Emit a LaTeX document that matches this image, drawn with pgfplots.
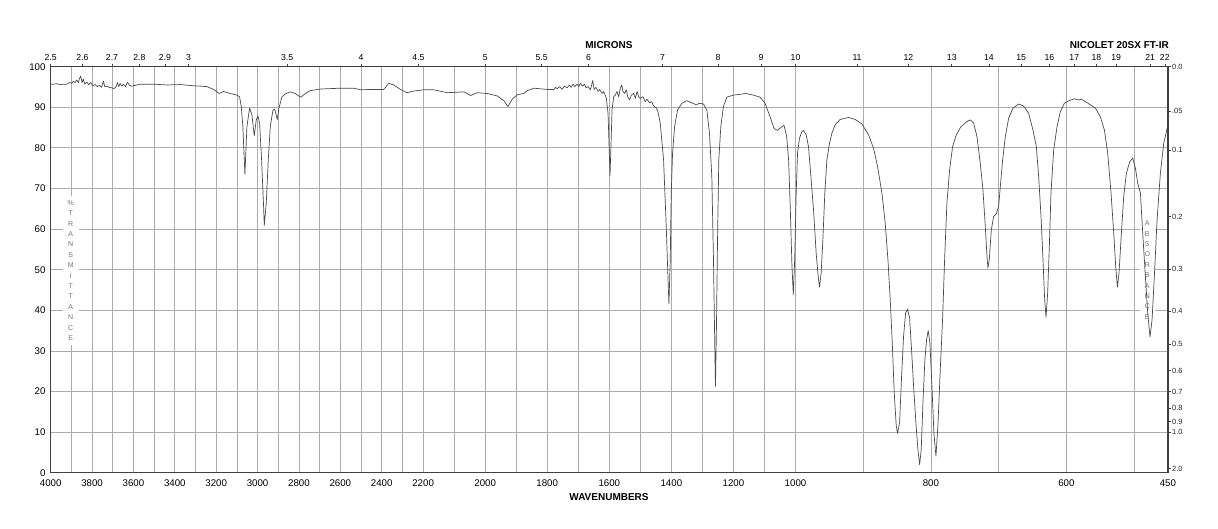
\documentclass[border=0pt]{standalone}
\usepackage{pgfplots}
\pgfplotsset{compat=1.18}
\usepackage{fontspec}
\setmainfont{Liberation Sans}
\definecolor{axcol}{HTML}{404040}
\definecolor{gridcol}{HTML}{ABABAB}
\definecolor{speccol}{HTML}{4A4A4A}
\begin{document}
\begin{tikzpicture}
\path[use as bounding box] (-50.7pt,-55.3pt) rectangle (1167.3pt,472.7pt);
\pgfplotsset{x coord trafo/.code={\pgfmathparse{(#1>=2200) ? ((4000-#1)*0.206889) : ((#1>=1000) ? (372.4+(2200-#1)*0.310333) : (744.8+(1000-#1)*0.677091))}}}
\begin{axis}[
  at={(0pt,0pt)}, anchor=south west,
  scale only axis, width=1117.2pt, height=406pt,
  xmin=4000, xmax=450, ymin=0, ymax=100,
  axis line style={draw=axcol, line width=1.2pt},
  xtick={4000,3900,3800,3700,3600,3500,3400,3300,3200,3100,3000,2900,2800,2700,2600,2500,2400,2300,2200,2100,2000,1900,1800,1700,1600,1500,1400,1300,1200,1100,1000,900,800,700,600,500,450},
  xticklabels={4000,{},3800,{},3600,{},3400,{},3200,{},3000,{},2800,{},2600,{},2400,{},2200,{},2000,{},1800,{},1600,{},1400,{},1200,{},1000,{},800,{},600,{},450},
  ytick={0,10,20,30,40,50,60,70,80,90,100},
  yticklabels={0,10,20,30,40,50,60,70,80,90,100},
  tick style={draw=none},
  grid=major, major grid style={draw=gridcol, line width=0.8pt},
  xticklabel style={font=\fontsize{9.7}{11}\selectfont, anchor=base, inner sep=0pt, yshift=-14pt},
  yticklabel style={font=\fontsize{9.7}{11}\selectfont, anchor=east, inner sep=0pt, xshift=-5pt},
  axis x line*=bottom, axis y line*=left,
]
\node[fill=white, inner xsep=5pt, inner ysep=4pt, align=center, text=black!55,
  font=\fontsize{7}{10.4}\selectfont] at (axis cs:3903,49.8)
  {\%\\T\\R\\A\\N\\S\\M\\I\\T\\T\\A\\N\\C\\E};
\node[fill=white, inner xsep=5pt, inner ysep=4pt, align=center, text=black!55,
  font=\fontsize{7}{10.4}\selectfont] at (axis cs:480.4,49.9)
  {A\\B\\S\\O\\R\\B\\A\\N\\C\\E};
\addplot[speccol, line width=0.7pt, line join=round, mark=none] coordinates {
(4000,95.7)(3987.1,95.7)(3971.0,95.8)(3954.8,95.6)(3938.7,95.7)(3922.6,95.7)(3909.7,96.1)(3898.4,95.9)(3890.3,96.4)(3882.3,96.1)(3874.2,96.7)(3866.1,96.1)(3861.3,97.1)(3854.8,97.7)(3848.4,96.1)(3841.9,96.9)(3835.5,95.7)(3825.8,96.2)(3816.1,95.6)(3806.5,96.1)(3796.8,95.3)(3785.5,95.6)(3774.2,95.1)(3764.5,95.4)(3754.8,94.9)(3745.2,96.4)(3738.7,95.1)(3729.0,95.2)(3716.1,94.9)(3704.8,94.8)(3693.5,94.6)(3683.9,95.1)(3677.4,96.1)(3671.0,95.1)(3664.5,95.9)(3656.5,95.2)(3648.4,95.7)(3638.7,95.1)(3629.0,96.2)(3619.4,95.4)(3608.1,95.2)(3567.7,95.7)(3503.2,95.7)(3438.7,95.5)(3374.2,95.6)(3309.7,95.3)(3245.2,95.1)(3212.9,94.4)(3185.5,93.4)(3164.5,93.9)(3132.3,93.4)(3100.0,93.0)(3087.1,92.6)(3079.0,90.2)(3071.0,85.2)(3061.3,73.5)(3051.6,85.2)(3038.7,89.8)(3027.4,88.1)(3016.1,83.0)(3006.5,86.9)(2998.4,87.9)(2990.3,86.1)(2980.6,77.0)(2971.0,65.6)(2967.7,60.9)(2958.1,66.4)(2948.4,77.0)(2938.7,85.2)(2925.8,89.3)(2917.7,89.5)(2909.7,88.1)(2904.8,87.0)(2896.8,89.8)(2882.3,92.6)(2866.1,93.3)(2841.9,93.8)(2817.7,93.4)(2801.6,92.8)(2790.3,92.5)(2769.4,93.4)(2745.2,94.1)(2696.8,94.5)(2648.4,94.6)(2600.0,94.7)(2535.5,94.7)(2500.0,94.3)(2454.8,94.4)(2390.3,94.4)(2366.1,95.9)(2341.9,95.5)(2309.7,94.4)(2277.4,93.6)(2245.2,94.0)(2200.0,94.3)
(2164.6,94.3)(2121.8,93.6)(2068.2,93.8)(2046.7,92.9)(2025.3,93.6)(1993.1,93.4)(1961.0,92.8)(1939.5,91.6)(1926.7,90.2)(1912.8,92.0)(1896.7,93.1)(1875.2,93.4)(1864.5,94.1)(1843.1,94.7)(1800.2,94.4)(1778.8,94.4)(1773.4,94.9)(1768.1,94.6)(1759.5,95.1)(1752.0,94.4)(1744.5,95.2)(1735.9,94.8)(1728.4,95.5)(1723.0,94.9)(1716.6,95.7)(1711.3,95.1)(1703.8,95.7)(1698.4,95.1)(1693.0,95.9)(1686.6,95.2)(1680.2,95.7)(1674.8,94.8)(1668.4,95.1)(1660.9,94.3)(1653.4,96.6)(1649.1,94.4)(1642.7,94.9)(1636.2,93.9)(1630.9,94.4)(1623.4,93.4)(1618.0,93.9)(1609.4,92.2)(1604.1,88.5)(1600.9,81.1)(1597.7,73.1)(1594.4,81.1)(1591.2,89.3)(1585.9,92.6)(1580.5,93.0)(1575.1,93.9)(1569.8,92.6)(1564.4,94.7)(1560.1,95.5)(1555.8,93.9)(1550.4,93.4)(1545.1,94.3)(1540.8,92.6)(1534.3,91.8)(1529.0,93.0)(1521.5,93.4)(1516.1,92.2)(1510.7,93.9)(1505.4,92.6)(1500.1,92.2)(1491.5,92.6)(1484.0,91.4)(1478.7,92.0)(1470.1,91.1)(1463.7,91.4)(1457.2,90.3)(1450.8,90.0)(1444.4,89.3)(1435.8,86.1)(1425.1,77.0)(1416.5,60.7)(1411.1,48.4)(1407.9,41.6)(1403.6,52.5)(1400.4,68.9)(1396.2,78.7)(1389.7,85.2)(1380.1,89.3)(1366.2,91.0)(1350.1,91.6)(1334.0,91.1)(1320.0,90.6)(1309.3,91.0)(1296.5,90.8)(1285.7,89.3)(1277.2,83.6)(1269.7,73.0)(1264.3,52.5)(1261.1,36.1)(1257.9,21.3)(1254.7,36.1)(1251.4,56.6)(1247.2,77.0)(1240.7,85.2)(1232.2,90.2)(1221.4,92.5)(1200.0,93.0)(1178.6,93.2)(1159.3,93.4)(1135.7,93.0)(1114.3,92.5)(1098.2,91.0)(1082.1,87.7)(1069.2,84.8)(1058.5,84.3)(1047.8,85.0)(1037.1,85.6)(1028.5,82.8)(1022.2,77.0)(1016.7,64.8)(1011.4,50.8)(1007.1,43.9)
(1002.6,52.5)(999.0,68.9)(997.0,78.7)(994.1,82.4)(990.6,84.0)(988.2,84.3)(984.2,83.2)(980.8,80.3)(977.3,73.0)(973.4,64.8)(969.5,54.1)(966.5,48.4)(964.5,45.7)(962.1,49.2)(959.6,57.4)(956.7,68.9)(953.7,77.0)(949.8,81.1)(946.3,83.6)(941.4,85.7)(934.0,87.0)(921.7,87.5)(911.8,87.0)(902.0,85.9)(892.1,83.2)(884.7,79.9)(878.8,75.4)(872.4,68.9)(867.5,61.5)(863.5,52.5)(860.1,42.6)(857.1,32.0)(854.2,19.7)(851.2,11.5)(849.3,9.7)(846.3,12.3)(843.3,23.8)(840.4,33.6)(837.4,39.3)(834.5,40.3)(831.5,38.1)(828.6,30.3)(825.6,21.3)(822.2,12.3)(819.2,5.7)(816.7,2.0)(814.3,5.7)(811.8,17.2)(808.9,27.9)(806.4,32.8)(804.0,35.0)(801.5,32.0)(798.5,21.3)(795.6,9.8)(792.6,4.1)(789.7,11.5)(786.2,25.4)(782.8,37.7)(779.8,52.5)(776.4,66.4)(772.4,74.6)(768.0,80.3)(762.6,83.2)(755.7,85.2)(746.8,86.5)(741.9,86.9)(736.9,86.1)(732.0,82.8)(727.1,76.2)(723.2,69.7)(719.7,60.7)(717.2,53.3)(715.8,50.4)(713.8,52.5)(710.8,59.8)(707.4,63.1)(703.4,63.8)(700.0,65.6)(697.5,70.5)(694.1,77.0)(690.1,82.8)(685.2,87.3)(678.8,89.8)(670.4,90.8)(663.1,90.3)(655.7,88.5)(649.3,84.4)(644.3,80.3)(640.9,73.0)(637.4,63.1)(634.5,52.5)(632.0,42.6)(630.0,38.3)(627.6,44.3)(625.1,55.7)(622.7,68.9)(618.7,79.5)(613.8,85.2)(608.9,88.9)(602.9,91.0)(596.6,91.6)(588.2,92.1)(581.8,91.8)(577.8,92.0)(571.9,91.4)(564.5,90.6)(557.1,89.8)(549.8,87.7)(543.8,84.4)(538.9,78.7)(534.0,68.9)(530.0,59.0)(527.1,50.8)(524.6,45.7)(522.2,49.2)(518.7,59.0)(515.3,68.0)(511.3,73.8)(506.4,76.6)(502.0,77.5)(498.0,75.0)(494.6,71.3)(490.6,68.9)(487.2,59.0)(483.3,48.4)(479.8,39.3)(476.4,33.4)(473.4,37.7)(470.0,48.4)(466.0,62.3)(461.1,73.8)(456.2,81.1)(451.2,84.8)(450,85.2)
};
\end{axis}
\begin{axis}[
  at={(0pt,0pt)}, anchor=south west,
  scale only axis, width=1117.2pt, height=406pt,
  xmin=4000, xmax=450, ymin=0, ymax=100,
  axis x line*=top, axis y line*=right,
  axis line style={draw=axcol, line width=1.2pt},
  xtick={4000,3846.15,3703.70,3571.43,3448.28,3333.33,2857.14,2500,2222.22,2000,1818.18,1666.67,1428.57,1250,1111.11,1000,909.09,833.33,769.23,714.29,666.67,625,588.24,555.56,526.32,476.19,454.55},
  xticklabels={2.5,2.6,2.7,2.8,2.9,3,3.5,4,4.5,5,5.5,6,7,8,9,10,11,12,13,14,15,16,17,18,19,21,22},
  ytick={100,89.125,79.433,63.096,50.119,39.811,31.623,25.119,19.953,15.849,12.589,10,1},
  yticklabels={0.0,.05,0.1,0.2,0.3,0.4,0.5,0.6,0.7,0.8,0.9,1.0,2.0},
  tick align=outside, major tick length=3pt,
  tick style={draw=axcol, line width=0.6pt},
  xticklabel style={font=\fontsize{8.7}{10}\selectfont, anchor=base, inner sep=0pt, yshift=3pt},
  yticklabel style={font=\fontsize{7.5}{9}\selectfont, anchor=west, inner sep=0pt, xshift=1pt, text=black!85},
]
\end{axis}
\node[font=\fontsize{10}{12}\selectfont\bfseries] at (558.3pt,427.7pt) {MICRONS};
\node[font=\fontsize{10}{12}\selectfont\bfseries] at (1068.6pt,427.7pt) {NICOLET 20SX FT-IR};
\node[font=\fontsize{10}{12}\selectfont\bfseries] at (558.3pt,-24pt) {WAVENUMBERS};
\end{tikzpicture}
\end{document}
